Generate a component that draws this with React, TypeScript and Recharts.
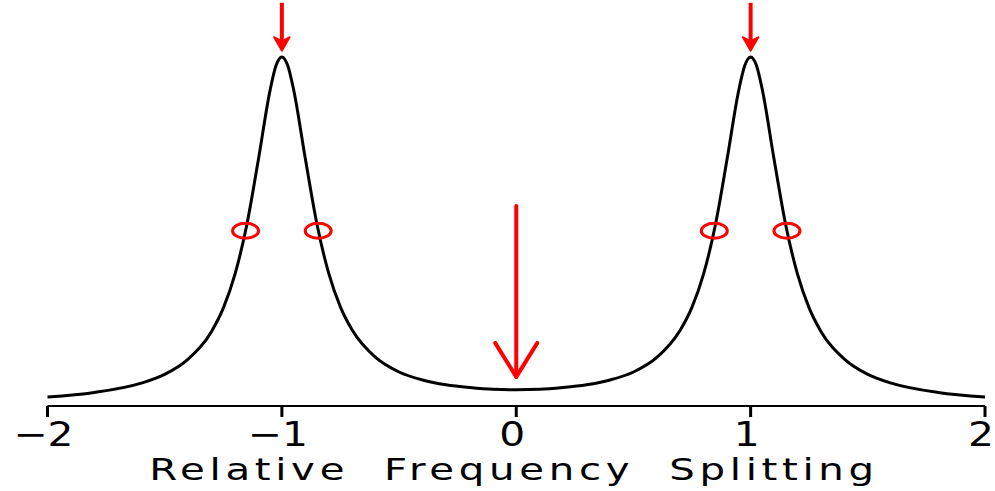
import { ComposedChart, Line, Scatter, XAxis, YAxis, ReferenceLine } from 'recharts';

// spectrum sampled across the splitting axis
const freq = [
  -2, -1.8, -1.6, -1.5, -1.4, -1.3, -1.25, -1.2, -1.15, -1.1, -1.05, -1.025, -1, -0.975, -0.95, -0.9, -0.85, -0.8,
  -0.75, -0.7, -0.6, -0.5, -0.4, -0.3, -0.2, -0.1, 0, 0.1, 0.2, 0.3, 0.4, 0.5, 0.6, 0.7, 0.75, 0.8, 0.85, 0.9, 0.95,
  0.975, 1, 1.025, 1.05, 1.1, 1.15, 1.2, 1.25, 1.3, 1.4, 1.5, 1.6, 1.8, 2,
];
const intensity = [
  0.026, 0.039, 0.066, 0.091, 0.135, 0.215, 0.282, 0.38, 0.521, 0.711, 0.911, 0.981, 1.006, 0.981, 0.912, 0.713,
  0.523, 0.382, 0.285, 0.219, 0.14, 0.098, 0.075, 0.061, 0.053, 0.048, 0.047, 0.048, 0.053, 0.061, 0.075, 0.098,
  0.14, 0.219, 0.285, 0.382, 0.523, 0.713, 0.912, 0.981, 1.006, 0.981, 0.911, 0.711, 0.521, 0.38, 0.282, 0.215,
  0.135, 0.091, 0.066, 0.039, 0.026,
];

// half-maximum markers
const halfX = [-1.155, -0.845, 0.845, 1.155];
const halfY = 0.505;

// peak arrows: tail and tip heights
const peakArrowX = [-1, 1];
const peakArrowTail = 1.162;
const peakArrowTip = 1.023;

// centre arrow
const centreX = 0;
const centreTail = 0.576;
const centreTip = 0.084;
const centreHeadDx = 0.09;
const centreHeadDy = 0.098;

const xTicks = [-2, -1, 0, 1, 2];

const curve = freq.map((x, i) => ({ x, y: intensity[i] }));
const circles = halfX.map((x) => ({ x, y: halfY }));
const arrowTips = peakArrowX.map((x) => ({ x, y: peakArrowTip }));

const RED = '#ff0000';
const FONT = '"DejaVu Sans", sans-serif';

function Ellipse(props: any) {
  const { cx, cy } = props;
  return <ellipse cx={cx} cy={cy} rx={13} ry={7.5} fill="none" stroke={RED} strokeWidth={3} />;
}

function ArrowHead(props: any) {
  const { cx, cy } = props;
  const pts = `${cx},${cy} ${cx - 8},${cy - 14} ${cx},${cy - 10} ${cx + 8},${cy - 14}`;
  return <polygon points={pts} fill={RED} stroke={RED} strokeWidth={1.5} strokeLinejoin="round" />;
}

// wide, plotter-style lettering
function Tick(props: any) {
  const { x, payload } = props;
  const v = payload.value as number;
  const txt = v < 0 ? `\u2212${Math.abs(v)}` : `${v}`;
  return (
    <text
      transform={`translate(${x - 4},446) scale(1.2,1)`}
      textAnchor="middle"
      fontFamily={FONT}
      fontSize={34}
      fill="#000"
    >
      {txt}
    </text>
  );
}

function AxisTitle() {
  return (
    <text
      transform="translate(514,480) scale(1.3,1)"
      textAnchor="middle"
      fontFamily={FONT}
      fontSize={31}
      letterSpacing={3.6}
      fill="#000"
      style={{ whiteSpace: 'pre' }}
    >
      {'Relative  Frequency  Splitting'}
    </text>
  );
}

export default function App() {
  return (
    <div style={{ position: 'absolute', left: 0, top: 0, width: 995, height: 491, background: '#fff' }}>
      <ComposedChart width={995} height={491} data={curve} margin={{ top: 0, right: 10, bottom: 55, left: 47.5 }}>
        <XAxis
          dataKey="x"
          type="number"
          domain={[-2, 2]}
          ticks={xTicks}
          tick={<Tick />}
          tickSize={11}
          height={30}
          tickLine={{ stroke: '#000', strokeWidth: 3 }}
          axisLine={{ stroke: '#000', strokeWidth: 2 }}
          label={{ content: () => <AxisTitle /> }}
        />
        <YAxis type="number" domain={[0, 1.17]} hide allowDataOverflow width={0} />
        <Line
          dataKey="y"
          type="monotone"
          stroke="#000"
          strokeWidth={3}
          dot={false}
          activeDot={false}
          isAnimationActive={false}
        />
        {peakArrowX.map((x) => (
          <ReferenceLine
            key={`shaft${x}`}
            segment={[
              { x, y: peakArrowTail },
              { x, y: peakArrowTip + 0.02 },
            ]}
            stroke={RED}
            strokeWidth={4}
          />
        ))}
        <ReferenceLine
          segment={[
            { x: centreX, y: centreTail },
            { x: centreX, y: centreTip },
          ]}
          stroke={RED}
          strokeWidth={4}
          strokeLinecap="round"
        />
        <ReferenceLine
          segment={[
            { x: centreX - centreHeadDx, y: centreTip + centreHeadDy },
            { x: centreX, y: centreTip },
          ]}
          stroke={RED}
          strokeWidth={4}
          strokeLinecap="round"
        />
        <ReferenceLine
          segment={[
            { x: centreX + centreHeadDx, y: centreTip + centreHeadDy },
            { x: centreX, y: centreTip },
          ]}
          stroke={RED}
          strokeWidth={4}
          strokeLinecap="round"
        />
        <Scatter data={circles} dataKey="y" shape={<Ellipse />} isAnimationActive={false} />
        <Scatter data={arrowTips} dataKey="y" shape={<ArrowHead />} isAnimationActive={false} />
      </ComposedChart>
    </div>
  );
}
